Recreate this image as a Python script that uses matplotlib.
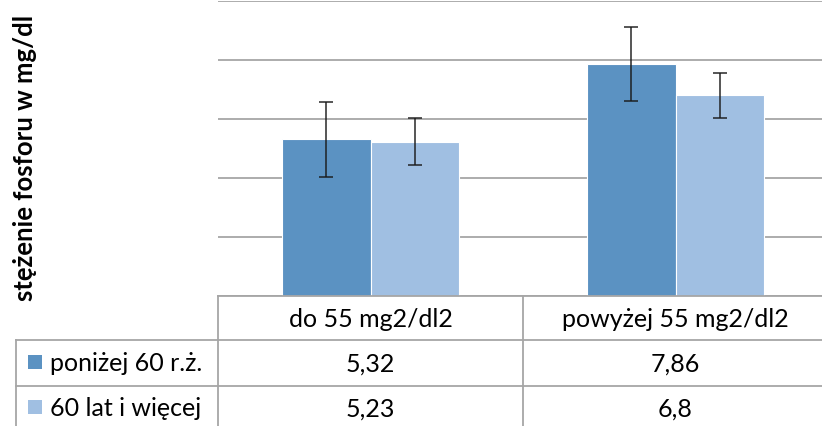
import numpy as np
import matplotlib.pyplot as plt
import matplotlib.transforms as mtransforms
from matplotlib.patches import Rectangle

plt.rcParams['font.family'] = ['Lato', 'DejaVu Sans']

# data
categories = ['do 55 mg2/dl2', 'powyżej 55 mg2/dl2']
series_names = ['poniżej 60 r.ż.', '60 lat i więcej']
values_young = [5.32, 7.86]
values_old = [5.23, 6.8]
err_young = [1.27, 1.26]
err_old = [0.79, 0.77]
labels_young = ['5,32', '7,86']
labels_old = ['5,23', '6,8']

dark = '#5b92c2'
light = '#a0bfe2'
grid_c = '#a6a6a6'

W, H = 822, 427
fig = plt.figure(figsize=(W / 100, H / 100), dpi=100)

# plot area (pixels from top-left): x 218..828, y 2..297
ax = fig.add_axes([218 / W, (H - 297) / H, 610 / W, 295 / H])
x = np.arange(len(categories))
bw = 0.29
ax.bar(x - bw / 2, values_young, bw, color=dark, edgecolor='white', linewidth=0.8, zorder=2)
ax.bar(x + bw / 2, values_old, bw, color=light, edgecolor='white', linewidth=0.8, zorder=2)
ax.errorbar(x - bw / 2, values_young, yerr=err_young, fmt='none', ecolor='#1a1a1a',
            elinewidth=1.3, capsize=5, capthick=1.3, alpha=0.8, zorder=3)
ax.errorbar(x + bw / 2, values_old, yerr=err_old, fmt='none', ecolor='#1a1a1a',
            elinewidth=1.3, capsize=5, capthick=1.3, alpha=0.8, zorder=3)

ax.set_xlim(-0.5, 1.5)
ax.set_ylim(0, 10)
ax.set_yticks(np.arange(0, 11, 2))
ax.yaxis.grid(True, color=grid_c, linewidth=1.3, zorder=0)
ax.set_axisbelow(True)
ax.tick_params(left=False, labelleft=False, bottom=False, labelbottom=False)
for s in ['left', 'right', 'top']:
    ax.spines[s].set_visible(False)
ax.spines['bottom'].set_color(grid_c)
ax.spines['bottom'].set_linewidth(1.3)

fig.text(25 / W, 1 - 158 / H, 'stężenie fosforu w mg/dl', rotation=90,
         ha='center', va='center', fontsize=18.5, fontweight='bold')

# data table below the plot, y in pixels from top
tab = fig.add_axes([0, 0, 1, 1])
tab.set_xlim(0, W)
tab.set_ylim(H, 0)
tab.set_axis_off()
trans = mtransforms.blended_transform_factory(ax.transData, tab.transData)

for xb in [-0.5, 0.5, 1.5]:
    tab.plot([xb, xb], [297, 445], transform=trans, color=grid_c, lw=1.3, clip_on=False)
for yl in [341, 387]:
    tab.plot([16, W], [yl, yl], color=grid_c, lw=1.3)
tab.plot([16, 16], [341, 445], color=grid_c, lw=1.3)

fs = 18
for i, cat in enumerate(categories):
    tab.text(i, 320, cat, transform=trans, ha='center', va='center', fontsize=fs)
    tab.text(i, 364, labels_young[i], transform=trans, ha='center', va='center', fontsize=fs)
    tab.text(i, 409, labels_old[i], transform=trans, ha='center', va='center', fontsize=fs)

for yc, name, col in zip([364, 409], series_names, [dark, light]):
    tab.add_patch(Rectangle((28, yc - 8), 14, 14, facecolor=col, edgecolor='none'))
    tab.text(50, yc, name, ha='left', va='center', fontsize=fs)

fig.savefig('out.png', dpi=100)
